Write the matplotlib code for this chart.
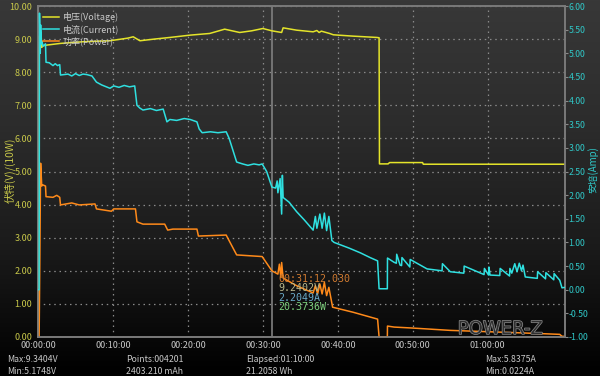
import numpy as np
import matplotlib
matplotlib.use("Agg")
import matplotlib.pyplot as plt
from matplotlib.colors import LinearSegmentedColormap
import matplotlib.patheffects as pe

plt.rcParams["font.family"] = ["Noto Sans CJK SC", "DejaVu Sans"]

# time in minutes
volt_t = [0.0, 0.05, 0.1, 0.2, 0.3, 0.4, 0.5, 0.7, 1.2, 3.0, 6.0, 9.6, 12.0, 12.7,
          13.6, 15.5, 17.6, 20.3, 22.9, 24.9, 26.9, 28.5, 30.0, 31.2, 32.5, 32.7,
          34.5, 36.7, 37.2, 37.5, 37.8, 38.9, 39.4, 42.0, 45.2, 45.5, 45.55, 46.7,
          46.9, 51.3, 51.4, 60.0, 70.3]
volt_v = [0.0, 3.0, 8.6, 9.1, 8.7, 9.2, 8.75, 8.8, 8.82, 8.87, 8.92, 8.95, 9.03, 9.07,
          8.95, 9.0, 9.05, 9.12, 9.17, 9.3, 9.2, 9.25, 9.32, 9.25, 9.2, 9.34,
          9.27, 9.22, 9.26, 9.2, 9.24, 9.17, 9.13, 9.09, 9.05, 9.04, 5.23, 5.23,
          5.27, 5.27, 5.22, 5.22, 5.22]

curr_t = [0.0, 0.15, 0.2, 0.3, 0.35, 0.45, 0.55, 0.65, 1.0, 1.07, 1.5, 2.0, 2.3, 2.6,
          2.9, 3.0, 4.0, 4.5, 5.0, 5.5, 6.0, 6.5, 7.2, 7.8, 8.5, 9.6, 10.1, 10.8,
          11.5, 12.2, 12.9, 13.2, 13.6, 14.0, 15.0, 15.8, 16.7, 17.2, 17.6, 18.5,
          19.5, 20.3, 21.2, 21.5, 21.9, 23.0, 24.0, 25.1, 25.5, 26.5, 27.3, 28.0,
          28.8, 29.5, 29.9, 30.5, 31.2, 31.7, 31.9, 32.0, 32.3, 32.5, 32.6, 32.7,
          33.5, 34.5, 35.5, 36.7, 37.0, 37.2, 37.6, 37.9, 38.2, 38.5, 38.8, 39.2,
          39.5, 40.0, 41.5, 43.0, 44.3, 45.3, 45.5, 46.6, 46.62, 47.5, 47.8, 47.85,
          48.3, 48.5, 48.55, 49.6, 49.65, 51.9, 53.9, 53.95, 55.0, 56.8, 56.85,
          59.5, 59.55, 60.1, 60.15, 60.3, 61.6, 61.65, 62.9, 62.95, 63.2, 63.6,
          63.9, 64.2, 64.5, 64.7, 65.0, 66.6, 66.65, 67.7, 67.75, 68.8, 68.85,
          69.6, 69.9, 70.3]
curr_a = [0.0, 0.0, 5.85, 5.0, 5.6, 5.2, 5.25, 5.15, 5.2, 4.81, 4.8, 4.74, 4.78, 4.74,
          4.76, 4.54, 4.56, 4.52, 4.57, 4.53, 4.56, 4.55, 4.52, 4.39, 4.33, 4.26, 4.31, 4.28,
          4.32, 4.29, 4.31, 3.9, 3.84, 3.80, 3.83, 3.79, 3.82, 3.55, 3.6, 3.58,
          3.62, 3.60, 3.55, 3.40, 3.32, 3.34, 3.32, 3.34, 3.2, 2.70, 2.66, 2.63,
          2.66, 2.64, 2.66, 2.50, 2.17, 2.15, 2.3, 2.05, 2.35, 1.6, 2.42, 1.95,
          1.85, 1.65, 1.48, 1.26, 1.55, 1.3, 1.6, 1.3, 1.62, 1.25, 1.55, 1.04,
          1.0, 0.97, 0.88, 0.78, 0.68, 0.61, 0.02, 0.02, 0.67, 0.58, 0.56, 0.75,
          0.52, 0.51, 0.68, 0.48, 0.64, 0.44, 0.40, 0.55, 0.38, 0.35, 0.5,
          0.32, 0.45, 0.31, 0.48, 0.31, 0.30, 0.45, 0.29, 0.45, 0.35, 0.55,
          0.38, 0.56, 0.4, 0.52, 0.27, 0.24, 0.38, 0.23, 0.36, 0.21, 0.34,
          0.2, 0.04, 0.05]

pow_t = [0.0, 0.15, 0.25, 0.35, 0.5, 0.6, 1.0, 1.07, 2.0, 2.5, 2.9, 3.0, 4.5, 5.5,
         7.6, 7.8, 9.8, 10.1, 13.0, 13.2, 14.0, 16.9, 17.3, 18.0, 21.2, 21.4,
         25.1, 26.5, 29.9, 31.2, 32.0, 32.2, 32.4, 32.5, 32.7, 34.5, 36.7, 37.0,
         37.3, 37.6, 37.9, 38.2, 38.5, 38.8, 39.3, 42.0, 45.3, 45.5, 46.6, 46.62,
         47.5, 50.0, 55.0, 60.0, 65.0, 69.6, 69.9, 70.3]
pow_p = [0.0, 0.0, 2.5, 5.25, 4.56, 4.6, 4.56, 4.24, 4.22, 4.28, 4.22, 3.99, 4.05, 3.99,
         4.02, 3.87, 3.80, 3.87, 3.87, 3.48, 3.41, 3.41, 3.23, 3.26, 3.26, 3.05,
         3.08, 2.48, 2.43, 2.0, 1.9, 2.2, 1.8, 2.25, 1.78, 1.55, 1.33, 1.55,
         1.3, 1.6, 1.3, 1.65, 1.25, 1.5, 0.9, 0.75, 0.54, 0.0, 0.0, 0.33,
         0.3, 0.27, 0.2, 0.16, 0.12, 0.08, 0.02, 0.02]

x_ticks = [0, 10, 20, 30, 40, 50, 60]
x_labels = ["00:00:00", "00:10:00", "00:20:00", "00:30:00", "00:40:00", "00:50:00", "01:00:00"]
cursor_t = 31.2
cursor_lines = ["00:31:12.030", "9.2402V", "2.2049A", "20.3736W"]
stats = [("Max:9.3404V", "Min:5.1748V"), ("Points:004201", "2403.210 mAh"),
         ("Elapsed:01:10:00", "21.2058 Wh"), ("Max:5.8375A", "Min:0.0224A")]

W, H = 600, 376
fig = plt.figure(figsize=(6, 3.76), dpi=100)

bg = fig.add_axes([0, 0, 1, 1], zorder=-10)
cmap = LinearSegmentedColormap.from_list("bg", ["#000000", "#1a1a1a", "#2c2c2c", "#383838"])
grad = np.linspace(1, 0, 256).reshape(-1, 1)
bg.imshow(grad, aspect="auto", cmap=cmap, extent=[0, 1, 0, 1], vmin=0, vmax=1)
bg.axis("off")

ax = fig.add_axes([38 / W, 39 / H, 527 / W, 331 / H])
ax.patch.set_alpha(0)
ax2 = ax.twinx()

yel, cyan, orng = "#e4e42a", "#2fe0e0", "#ff8a1a"
ax.plot(volt_t, volt_v, color=yel, lw=1.1, label="电压(Voltage)", zorder=3)
ax.plot(pow_t, pow_p, color=orng, lw=1.1, label="功率(Power)", zorder=3)
ax2.plot(curr_t, curr_a, color=cyan, lw=1.1, label="电流(Current)", zorder=3)

ax.set_xlim(0, 70.3)
ax.set_ylim(0, 10)
ax2.set_ylim(-1, 6)
ax.set_xticks(x_ticks)
ax.set_xticklabels(x_labels)
ax.set_yticks(np.arange(0, 11, 1))
ax.set_yticklabels([f"{v:.2f}" for v in np.arange(0, 11, 1)])
ax2.set_yticks(np.arange(-1, 6.01, 0.5))
ax2.set_yticklabels([f"{v:.2f}" for v in np.arange(-1, 6.01, 0.5)])

ax.grid(True, color="#8a8a8a", linestyle=(0, (1.2, 3)), linewidth=0.9)
ax.tick_params(axis="y", colors="#c8c84a", labelsize=6.5, length=0, pad=4)
ax.tick_params(axis="x", colors="#c8c8c8", labelsize=6.5, length=0, pad=3)
ax2.tick_params(axis="y", colors="#888888", labelcolor="#30c8c8", labelsize=6.3, length=2, pad=0.5)
for a in (ax, ax2):
    for s in a.spines.values():
        s.set_color("#7a7a7a")
        s.set_linewidth(1.2)

fig.text(10 / W, 1 - 170 / H, "伏特(V)/(10W)", color="#c8c84a", fontsize=7.5,
         rotation=90, ha="center", va="center")
fig.text(593 / W, 1 - 170 / H, "安培(Amp)", color="#30c8c8", fontsize=7,
         rotation=90, ha="center", va="center")

ax.axvline(cursor_t, color="#808080", lw=1.2, zorder=2)

h1, l1 = ax.get_legend_handles_labels()
h2, l2 = ax2.get_legend_handles_labels()
handles = [h1[0], h2[0], h1[1]]
labels = [l1[0], l2[0], l1[1]]
leg = ax2.legend(handles, labels, loc="upper left", bbox_to_anchor=(0.0, 0.995),
                 frameon=False, fontsize=6.5, handlelength=1.8, handletextpad=0.4,
                 labelspacing=0.25, borderaxespad=0.1, labelcolor="#c8c8c8")

mono_cols = ["#d07a30", "#b8b88c", "#6aaac8", "#7cd07c"]
for i, (txt, c) in enumerate(zip(cursor_lines, mono_cols)):
    fig.text(278 / W, 1 - (279 + i * 9.3) / H, txt, color=c, fontsize=7.2,
             family="DejaVu Sans Mono", va="center", ha="left", zorder=1)

fig.text(500 / W, 1 - 329 / H, "POWER-Z", ha="center", va="center", fontsize=13,
         color="#303030", family="DejaVu Sans",
         path_effects=[pe.withStroke(linewidth=1.0, foreground="#8c8c8c")])

stat_x = [7, 126, 246, 485]
for x, (a, b) in zip(stat_x, stats):
    fig.text(x / W, 1 - 360 / H, a, color="#c8c8c8", fontsize=6.3, va="center")
    fig.text(x / W, 1 - 371 / H, b, color="#c8c8c8", fontsize=6.3, va="center")

fig.savefig("out.png", dpi=100)
